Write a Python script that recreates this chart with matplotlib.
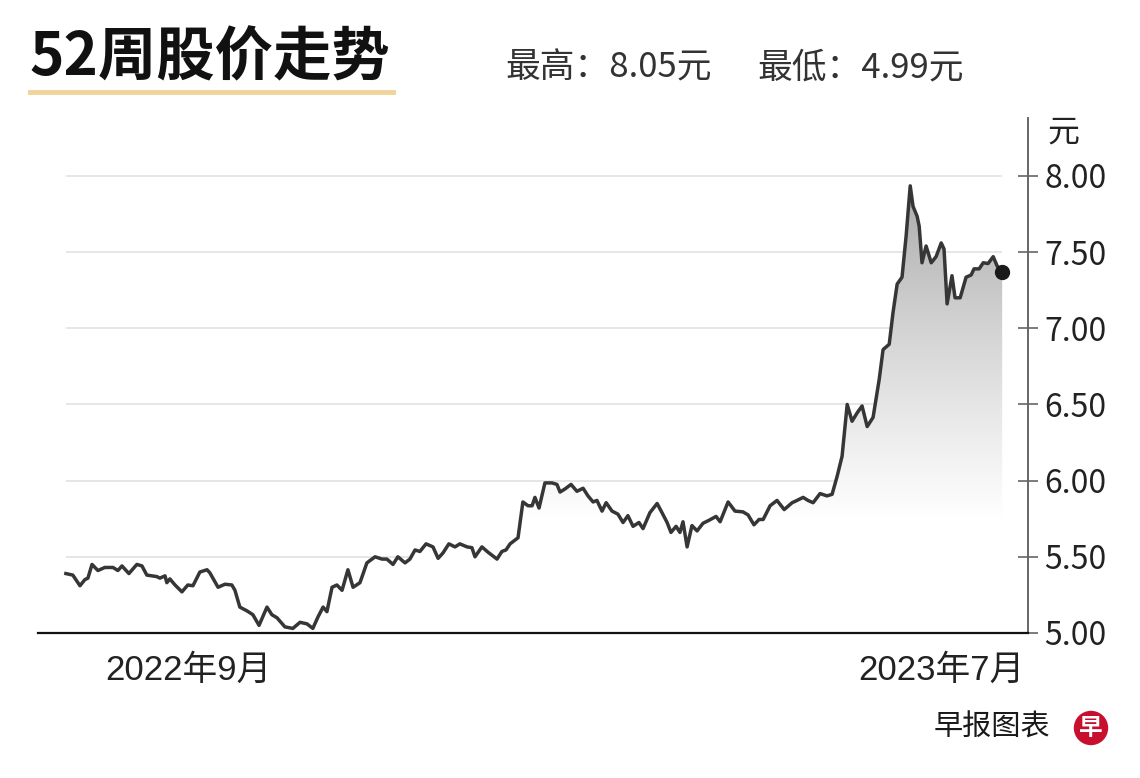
import numpy as np
import pandas as pd
import matplotlib
matplotlib.use("Agg")
import matplotlib.pyplot as plt
from matplotlib.colors import LinearSegmentedColormap
from matplotlib.patches import Polygon
from matplotlib.transforms import ScaledTranslation

plt.rcParams['font.family'] = ['Noto Sans CJK SC', 'DejaVu Sans']

# data: days since start date, closing price (yuan)
start_date = pd.Timestamp("2022-07-19")
days = [0.0, 2.7, 5.5, 7.4, 8.6, 10.2, 12.5, 15.2, 18.4, 20.3, 21.9, 24.6, 27.7, 29.7,
        31.6, 35.5, 36.7, 38.7, 39.4, 40.6, 42.6, 45.3, 47.6, 49.6, 52.3, 55.1, 56.2,
        59.4, 62.1, 64.8, 66.0, 67.9, 70.7, 73.0, 75.4, 78.5, 80.4, 82.4, 85.5, 88.6,
        91.4, 94.1, 96.4, 98.4, 100.4, 101.9, 103.9, 105.8, 107.8, 110.1, 112.1, 114.8,
        117.5, 120.7, 123.4, 125.3, 127.7, 129.6, 132.4, 134.3, 136.3, 138.2, 140.6,
        143.3, 145.3, 147.2, 149.5, 151.9, 153.8, 156.6, 158.5, 159.7, 162.4, 164.8,
        168.3, 170.2, 171.8, 173.4, 176.5, 178.4, 180.4, 182.0, 183.1, 184.7, 187.0,
        189.8, 191.7, 192.9, 194.8, 197.2, 199.5, 201.9, 203.8, 205.8, 207.3, 209.3,
        210.9, 213.2, 215.5, 217.5, 219.4, 221.4, 223.7, 225.3, 228.0, 230.8, 232.7,
        234.7, 236.2, 238.2, 239.7, 240.9, 242.5, 244.4, 246.4, 248.7, 251.1, 253.8,
        255.4, 258.5, 261.2, 264.3, 266.3, 268.6, 270.6, 272.2, 274.9, 277.6, 280.4,
        283.5, 285.4, 287.8, 289.7, 291.7, 294.4, 297.1, 299.1, 301.1, 303.0, 305.0,
        306.9, 308.9, 310.8, 312.8, 315.1, 317.5, 319.0, 321.4, 322.9, 324.5, 326.4,
        328.0, 329.6, 330.7, 332.3, 333.1, 334.2, 335.8, 337.8, 339.7, 341.7, 342.8,
        344.0, 345.9, 347.1, 349.1, 351.4, 353.4, 354.5, 356.5, 358.1, 360.0, 362.0,
        363.5, 365.5]
prices = [5.39, 5.38, 5.31, 5.35, 5.36, 5.45, 5.41, 5.43, 5.43, 5.41, 5.44, 5.39, 5.45, 5.44,
          5.38, 5.37, 5.36, 5.375, 5.33, 5.355, 5.315, 5.27, 5.315, 5.31, 5.40, 5.415, 5.395,
          5.30, 5.32, 5.315, 5.28, 5.17, 5.145, 5.12, 5.05, 5.17, 5.12, 5.10, 5.04, 5.03,
          5.07, 5.06, 5.03, 5.105, 5.17, 5.14, 5.30, 5.315, 5.28, 5.415, 5.30, 5.33,
          5.46, 5.50, 5.485, 5.485, 5.45, 5.50, 5.46, 5.485, 5.545, 5.535, 5.585,
          5.565, 5.49, 5.525, 5.585, 5.565, 5.585, 5.565, 5.56, 5.50, 5.565, 5.53,
          5.485, 5.535, 5.545, 5.585, 5.625, 5.86, 5.835, 5.835, 5.89, 5.82, 5.985,
          5.985, 5.975, 5.925, 5.945, 5.975, 5.93, 5.95, 5.90, 5.86, 5.87, 5.80,
          5.855, 5.80, 5.78, 5.725, 5.77, 5.70, 5.725, 5.685, 5.79, 5.85, 5.79,
          5.725, 5.66, 5.70, 5.66, 5.73, 5.565, 5.705, 5.67, 5.72, 5.74, 5.765,
          5.73, 5.86, 5.80, 5.795, 5.775, 5.71, 5.745, 5.745, 5.835, 5.87, 5.81,
          5.855, 5.87, 5.89, 5.87, 5.855, 5.915, 5.90, 5.91, 6.03, 6.16, 6.50,
          6.39, 6.445, 6.49, 6.355, 6.415, 6.665, 6.86, 6.895, 7.105, 7.29, 7.335,
          7.605, 7.935, 7.80, 7.735, 7.67, 7.43, 7.54, 7.43, 7.47, 7.56, 7.52,
          7.16, 7.345, 7.20, 7.20, 7.335, 7.35, 7.39, 7.39, 7.43, 7.425, 7.47,
          7.41, 7.37]

tick_dates = ["2022-09-01", "2023-07-01"]
tick_labels = ["2022年9月", "2023年7月"]
y_ticks = [5.0, 5.5, 6.0, 6.5, 7.0, 7.5, 8.0]
title = "52周股价走势"
high_txt = "最高：8.05元"
low_txt = "最低：4.99元"
source = "早报图表"

days = np.array(days)
prices = np.array(prices)
tick_pos = [(pd.Timestamp(d) - start_date).days for d in tick_dates]

fig = plt.figure(figsize=(11.4, 7.78), dpi=100)
ax = fig.add_axes([0.0333, 0.1864, 0.8685, 0.6619])

ax.set_xlim(-10.9, 375.6)
ax.set_ylim(5.0, 8.38)

# gridlines only across the data span
for yv in y_ticks[1:]:
    ax.hlines(yv, days[0], days[-1], color="#e2e2e2", lw=1.2, zorder=1)

# gradient fill below line
cmap = LinearSegmentedColormap.from_list(
    "fade", [(0.0, "#ffffff"), (0.25, "#ffffff"), (0.45, "#ebebeb"),
             (0.667, "#d3d3d3"), (1.0, "#a9a9a9")])
grad = np.linspace(0, 1, 256).reshape(-1, 1)
im = ax.imshow(grad, extent=[days[0], days[-1], 5.0, 8.0], origin="lower",
               cmap=cmap, aspect="auto", zorder=2)
verts = [(days[0], 5.0)] + list(zip(days, prices)) + [(days[-1], 5.0)]
poly = Polygon(verts, closed=True, facecolor="none", edgecolor="none")
ax.add_patch(poly)
im.set_clip_path(poly)

ax.plot(days, prices, color="#363636", lw=2.5, zorder=3, solid_joinstyle="round")
ax.plot(days[-1], prices[-1], "o", color="#1a1a1a", ms=10, zorder=4)

# axes styling
ax.spines["top"].set_visible(False)
ax.spines["left"].set_visible(False)
ax.spines["bottom"].set_color("#111111")
ax.spines["bottom"].set_linewidth(1.6)
ax.spines["right"].set_color("#666666")
ax.spines["right"].set_linewidth(1.4)

ax.yaxis.tick_right()
ax.set_yticks(y_ticks)
ax.set_yticklabels([f"{v:.2f}" for v in y_ticks])
ax.tick_params(axis="y", direction="inout", length=15, width=1.2, color="#666666",
               pad=4, labelsize=23, labelcolor="#222222")
ax.set_xticks(tick_pos)
ax.set_xticklabels(tick_labels, family=['Liberation Sans', 'Noto Sans CJK SC'])
ax.tick_params(axis="x", direction="in", length=11, width=1.2, color="#777777",
               pad=15, labelsize=25, labelcolor="#222222")
# nudge tick labels as in the original layout
for lab, dx in zip(ax.get_xticklabels(), [10, -13]):
    lab.set_transform(lab.get_transform() + ScaledTranslation(dx / 100, 0, fig.dpi_scale_trans))

fig.text(1063 / 1140, 1 - 133 / 778, "元", fontsize=23, ha="center", va="center",
         color="#222222")

# header
fig.text(30 / 1140, 1 - 58 / 778, title, fontsize=42, fontweight="heavy",
         ha="left", va="center", color="#111111")
fig.add_artist(plt.Line2D([30 / 1140, 393 / 1140], [1 - 92 / 778, 1 - 92 / 778],
                          color="#f2d39c", lw=3.5))
fig.text(505 / 1140, 1 - 68 / 778, high_txt, fontsize=25, ha="left", va="center",
         color="#333333")
fig.text(757 / 1140, 1 - 68 / 778, low_txt, fontsize=25, ha="left", va="center",
         color="#333333")

# footer
fig.text(1050 / 1140, 1 - 728 / 778, source, fontsize=21, ha="right", va="center",
         color="#1a1a1a")
fig.text(1091 / 1140, 1 - 728 / 778, "早", fontsize=17, fontweight="bold", ha="center",
         va="center", color="white",
         bbox=dict(boxstyle="circle,pad=0.22", fc="#c8102e", ec="none"))

fig.savefig("out.png", dpi=100, facecolor="white")
